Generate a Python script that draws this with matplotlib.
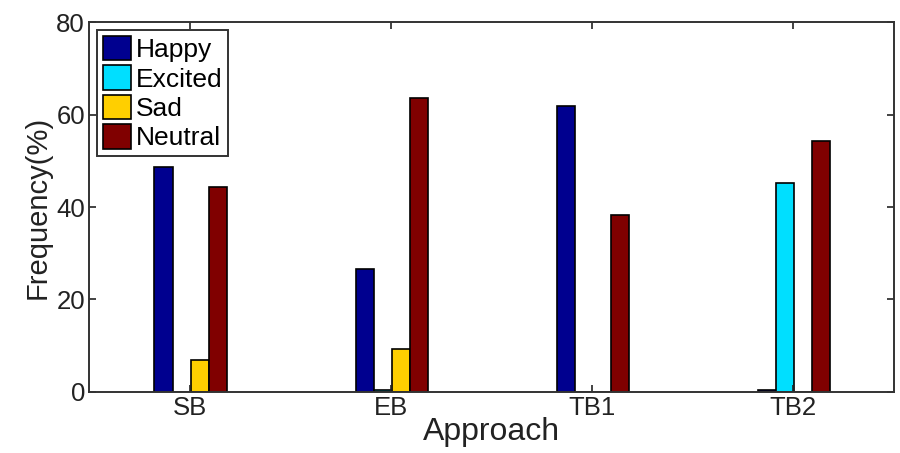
import numpy as np
import matplotlib
matplotlib.use("Agg")
import matplotlib.pyplot as plt

# approaches and emotion frequencies (%)
approaches = ["SB", "EB", "TB1", "TB2"]
emotions = ["Happy", "Excited", "Sad", "Neutral"]
happy = [48.6, 26.5, 61.8, 0.4]
excited = [0.0, 0.5, 0.0, 45.3]
sad = [6.9, 9.2, 0.0, 0.0]
neutral = [44.3, 63.7, 38.2, 54.2]

colors = ["#00008F", "#00DFFF", "#FFCF00", "#800000"]

plt.rcParams["font.family"] = ["Liberation Sans", "DejaVu Sans"]

fig = plt.figure(figsize=(9, 4.53), dpi=100)
ax = fig.add_axes([0.099, 0.135, 0.894, 0.816])

x = np.arange(1, len(approaches) + 1)
series = [happy, excited, sad, neutral]
w = 0.09
for i, (name, vals, c) in enumerate(zip(emotions, series, colors)):
    ax.bar(x + (i - 1.5) * w + 0.005, vals, width=w, color=c,
           edgecolor="black", linewidth=1.2, label=name)

ax.set_xlim(0.5, 4.5)
ax.set_ylim(0, 80)
ax.set_yticks([0, 20, 40, 60, 80])
ax.set_xticks(x)
ax.set_xticklabels(approaches)
ax.tick_params(direction="in", top=True, right=True, length=5, width=1.2,
               labelsize=18.5, pad=3, colors="#222222")
for s in ax.spines.values():
    s.set_linewidth(1.4)
    s.set_color("#333333")

ax.set_xlabel("Approach", fontsize=23, labelpad=-2, color="#222222")
ax.set_ylabel("Frequency(%)", fontsize=21, labelpad=3, color="#222222")

leg = ax.legend(loc="upper left", fontsize=19, handlelength=1.05, handleheight=1.05,
                handletextpad=0.2, labelspacing=0.12, borderpad=0.22,
                borderaxespad=0.3, fancybox=False, framealpha=1)
leg.get_frame().set_edgecolor("#333333")
leg.get_frame().set_linewidth(1.4)

plt.savefig("out.png", dpi=100)
